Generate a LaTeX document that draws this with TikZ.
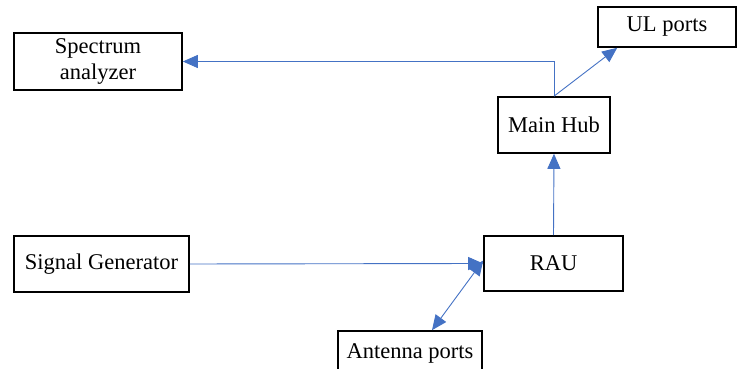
\documentclass[tikz,border=0pt]{standalone}
\usepackage{fontspec}
\setmainfont{Liberation Serif}
\usetikzlibrary{arrows.meta}
\begin{document}
\begin{tikzpicture}[x=1pt,y=1pt,
  blk/.style={draw=black,line width=1.6pt,inner sep=0pt,align=center,font=\fontsize{22.5}{26}\selectfont},
  conn/.style={draw={rgb,255:red,68;green,114;blue,196},line width=0.9pt,
    -{Triangle[length=15pt,width=13pt]}}]
\useasboundingbox (0,0) rectangle (737,369);
\node[blk,minimum width=168pt,minimum height=57pt] (spec) at (98,307.5) {Spectrum\\analyzer};
\node[blk,minimum width=138pt,minimum height=40pt] (ul) at (667,342) {UL ports};
\node[blk,minimum width=112pt,minimum height=56pt] (hub) at (554,244) {Main Hub};
\node[blk,minimum width=175pt,minimum height=56pt] (sg) at (101.5,105) {Signal Generator};
\node[blk,minimum width=139pt,minimum height=55pt] (rau) at (553.5,105.5) {RAU};
\node[blk,minimum width=144pt,minimum height=44pt] (ant) at (410,16) {Antenna ports};
\draw[conn] (hub.north) |- (spec.east);
\draw[conn] (hub.north) -- ([xshift=20pt]ul.south west);
\draw[conn] (rau.north) -- (hub.south);
\draw[conn] (sg.east) -- (rau.west);
\draw[conn,{Triangle[length=15pt,width=13pt]}-{Triangle[length=15pt,width=13pt]}] ([yshift=3pt]rau.west) -- ([xshift=22pt]ant.north);
\end{tikzpicture}
\end{document}
